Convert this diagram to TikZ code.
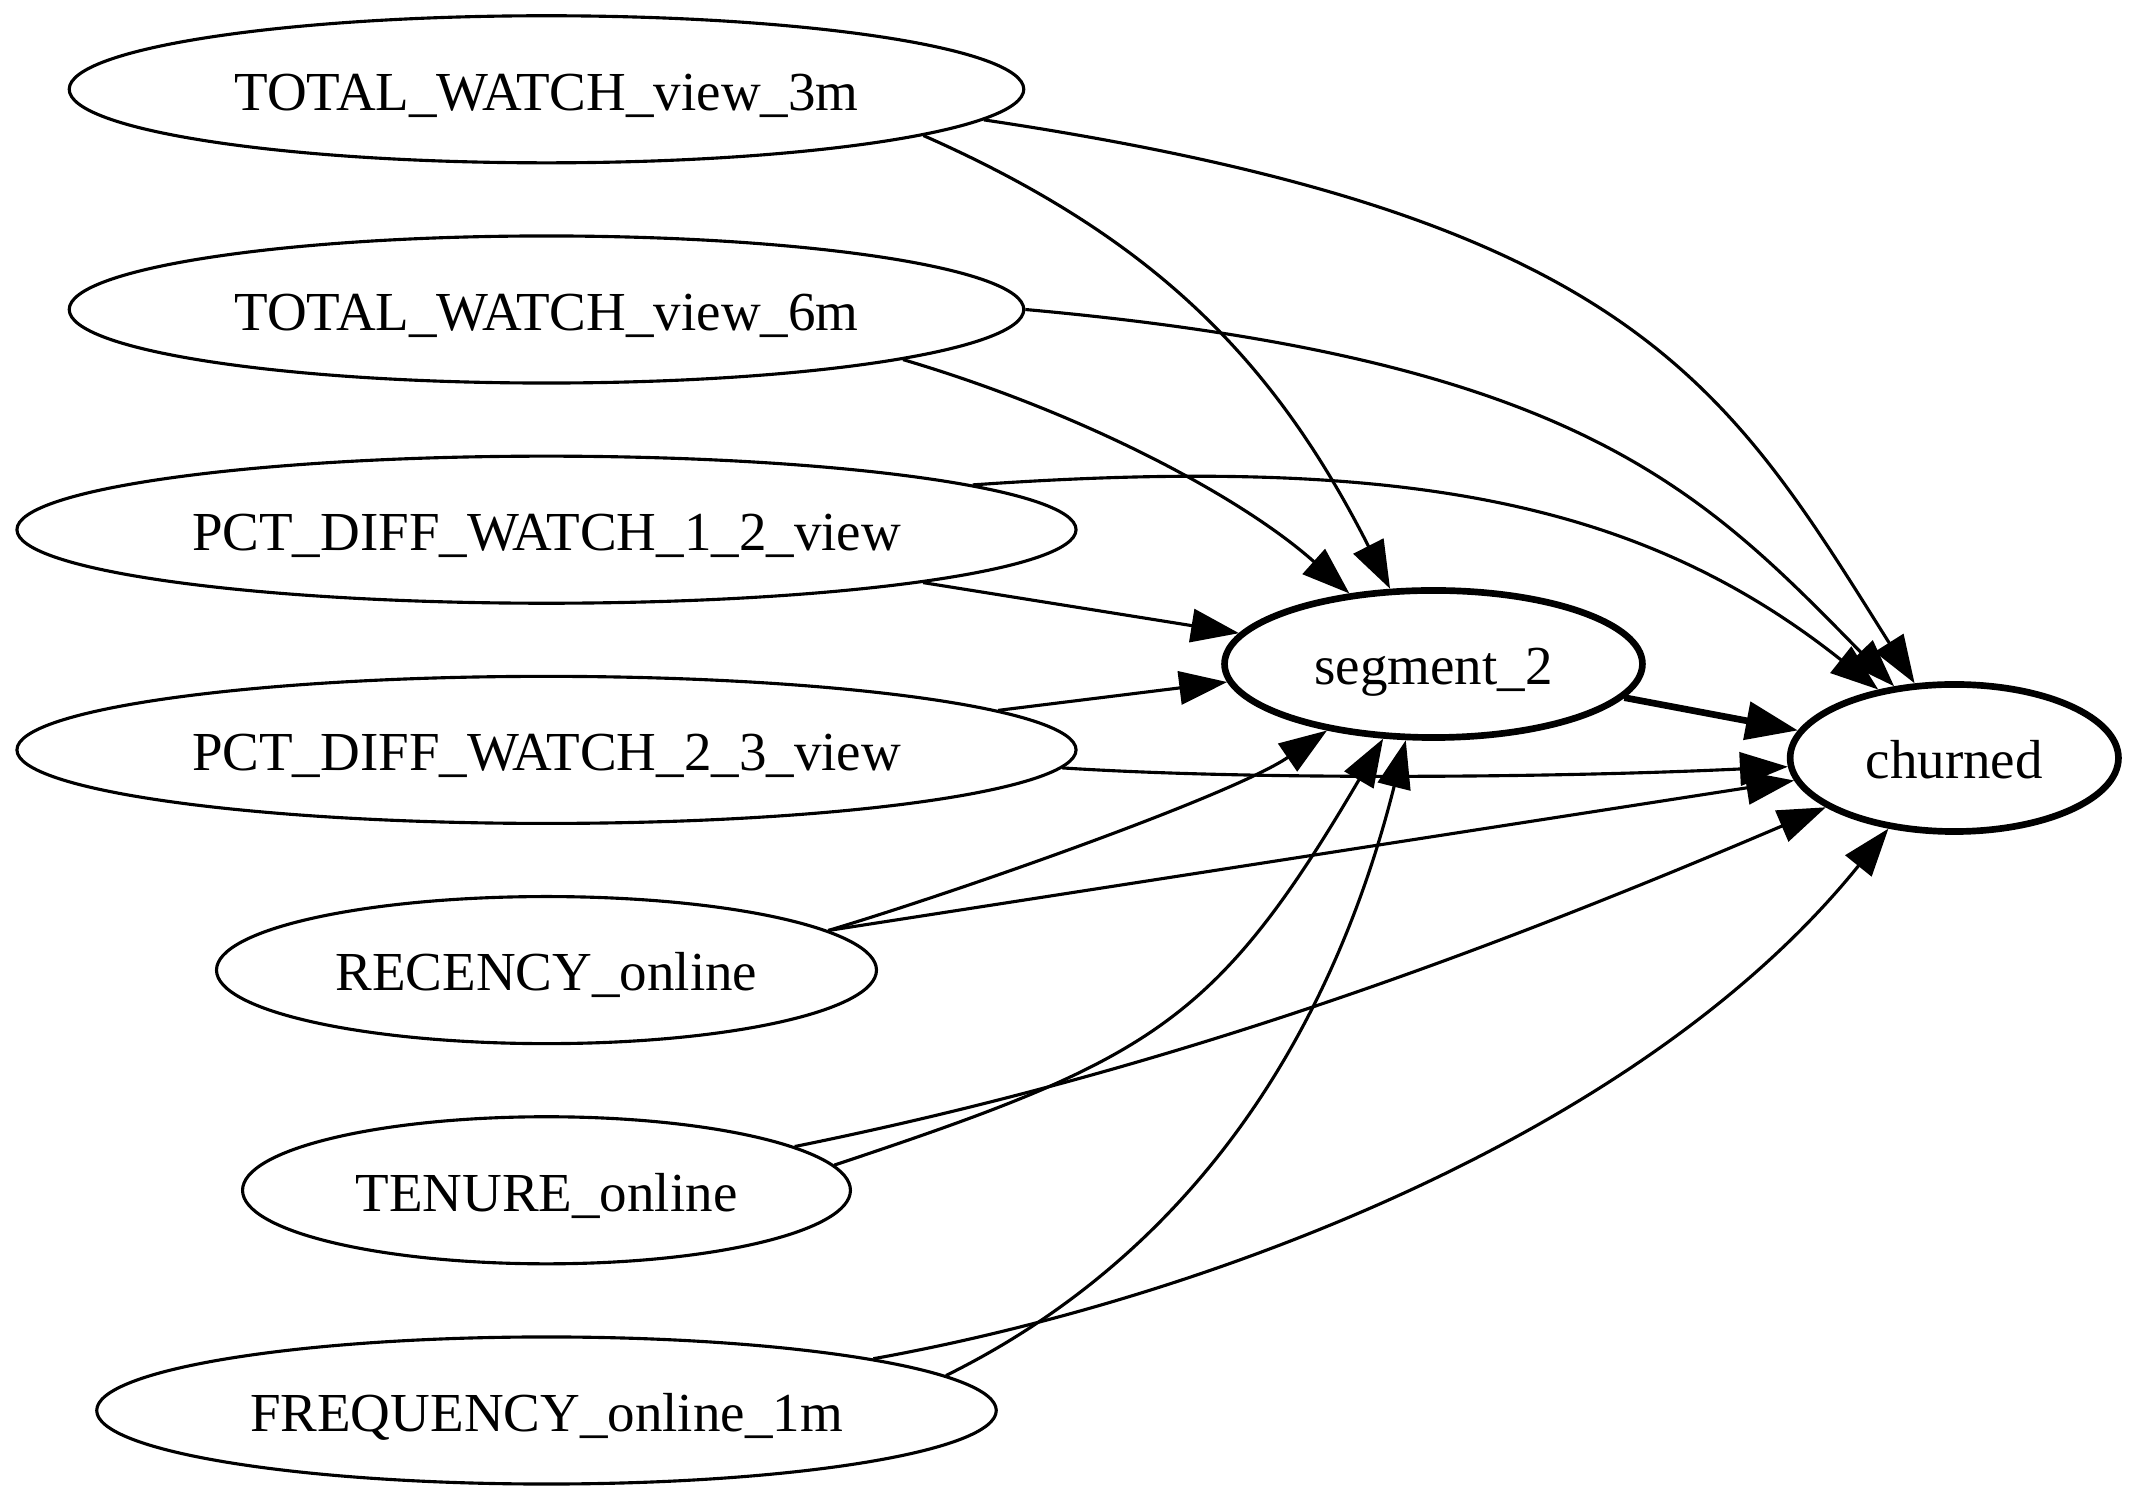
\documentclass[tikz,border=0pt]{standalone}
\usepackage{fontspec}
\setmainfont{Liberation Serif}
\usetikzlibrary{arrows.meta,shapes.geometric}
\begin{document}
\begin{tikzpicture}[x=0.24pt,y=-0.24pt,
  every node/.style={font=\fontsize{13.2pt}{15pt}\selectfont, text height=10pt, text depth=0pt, inner sep=0pt},
  nd/.style={ellipse, draw, line width=0.75pt, minimum height=35.3pt},
  thicknd/.style={nd, line width=1.6pt},
  edge/.style={line width=0.75pt, -{Triangle[length=11.5pt,width=8pt]}},
  thickedge/.style={line width=1.6pt, -{Triangle[length=12.5pt,width=9pt]}}]
\useasboundingbox (0,0) rectangle (2137,1500);
% nodes
\node[nd, minimum width=229.1pt] (tw3) at (546.5,89.3) {TOTAL\_WATCH\_view\_3m};
\node[nd, minimum width=229.1pt] (tw6) at (546.5,309.5) {TOTAL\_WATCH\_view\_6m};
\node[nd, minimum width=254.2pt] (p12) at (546.5,529.7) {PCT\_DIFF\_WATCH\_1\_2\_view};
\node[nd, minimum width=254.2pt] (p23) at (546.5,749.9) {PCT\_DIFF\_WATCH\_2\_3\_view};
\node[nd, minimum width=158.4pt] (rec) at (546.5,970.1) {RECENCY\_online};
\node[nd, minimum width=145.9pt] (ten) at (546.5,1190.3) {TENURE\_online};
\node[nd, minimum width=215.9pt] (frq) at (546.5,1410.5) {FREQUENCY\_online\_1m};
\node[thicknd, minimum width=100.3pt] (seg) at (1433.5,664) {segment\_2};
\node[thicknd, minimum width=78.8pt] (chu) at (1954.3,758) {churned};
% edges
\draw[edge] (tw3.-7.2) .. controls (1160,240) and (1277,366) .. (seg.120.1);
\draw[edge] (tw3.-4.1) .. controls (1634,217) and (1727,385) .. (chu.118.8);
\draw[edge] (tw6.-8.2) .. controls (1090,415) and (1245,500) .. (seg.140.9);
\draw[edge] (tw6.-0.66) .. controls (1575,359) and (1700,488) .. (chu.130.3);
\draw[edge] (p12.6.1) .. controls (1400,455) and (1640,500) .. (chu.138.9);
\draw[edge] (p12.-8.4) -- (seg.171.1);
\draw[edge] (p23.5.7) -- (seg.185);
\draw[edge] (p23.-2.4) .. controls (1250,780) and (1550,778) .. (chu.183.4);
\draw[edge] (rec.8.66) .. controls (957,892) and (1233,795) .. (seg.212.1);
\draw[edge] (rec.8.66) -- (chu.188.4);
\draw[edge] (ten.10.3) .. controls (1157,1073) and (1463,962) .. (chu.201.6);
\draw[edge] (ten.5.2) .. controls (1150,1060) and (1215,1025) .. (seg.236.2);
\draw[edge] (frq.5.9) .. controls (1206,1247) and (1336,1017) .. (seg.250.8);
\draw[edge] (frq.9.8) .. controls (1200,1300) and (1640,1137) .. (chu.227.4);
\draw[thickedge] (seg.-10.5) -- (chu.170.2);
\end{tikzpicture}
\end{document}
